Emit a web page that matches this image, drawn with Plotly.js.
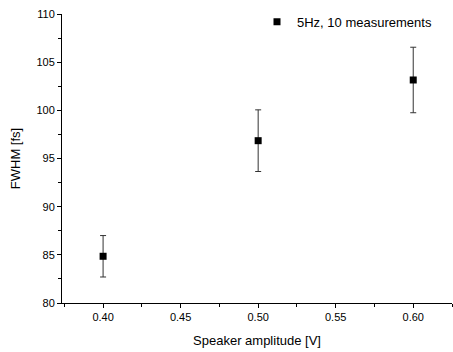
<!DOCTYPE html>
<html>
<head>
<meta charset="utf-8">
<script src="https://cdn.plot.ly/plotly-3.0.1.min.js"></script>
<style>html,body{margin:0;padding:0;background:#fff;}</style>
</head>
<body>
<div id="chart" style="width:453px;height:352px;"></div>
<script>
const amplitude = [0.40, 0.50, 0.60];
const fwhm = [84.85, 96.85, 103.15];
const fwhmErr = [2.15, 3.2, 3.4];
const seriesName = "5Hz, 10 measurements";

const trace = {
  x: amplitude,
  y: fwhm,
  type: "scatter",
  mode: "markers",
  name: seriesName,
  marker: {symbol: "square", size: 7, color: "#000"},
  error_y: {type: "data", array: fwhmErr, visible: true, color: "#333", thickness: 1, width: 3}
};

const fam = "Liberation Sans, Arial, sans-serif";

const layout = {
  width: 453, height: 352,
  margin: {l: 62, r: 1, t: 14, b: 49},
  paper_bgcolor: "#fff", plot_bgcolor: "#fff",
  font: {family: fam, size: 11, color: "#000"},
  showlegend: true,
  legend: {x: 0.50, y: 1.025, xanchor: "left", yanchor: "top", bgcolor: "rgba(0,0,0,0)", font: {family: fam, size: 13, color: "#000"}, itemwidth: 30},
  xaxis: {
    range: [0.3735, 0.625],
    tickvals: [0.40, 0.45, 0.50, 0.55, 0.60],
    ticktext: ["0.40", "0.45", "0.50", "0.55", "0.60"],
    ticks: "outside", ticklen: 4, tickwidth: 1, tickcolor: "#000",
    minor: {dtick: 0.025, tick0: 0.375, ticks: "outside", ticklen: 3, tickcolor: "#000"},
    showline: true, linecolor: "#000", linewidth: 1,
    showgrid: false, zeroline: false,
    title: {text: "Speaker amplitude [V]", font: {family: fam, size: 13}, standoff: 13}
  },
  yaxis: {
    range: [80, 110],
    dtick: 5,
    ticks: "outside", ticklen: 4, tickwidth: 1, tickcolor: "#000",
    minor: {dtick: 2.5, ticks: "outside", ticklen: 3, tickcolor: "#000"},
    showline: true, linecolor: "#000", linewidth: 1,
    showgrid: false, zeroline: false,
    title: {text: "FWHM [fs]", font: {family: fam, size: 13}, standoff: 12}
  }
};

Plotly.newPlot("chart", [trace], layout, {displayModeBar: false, staticPlot: true});
</script>
</body>
</html>
